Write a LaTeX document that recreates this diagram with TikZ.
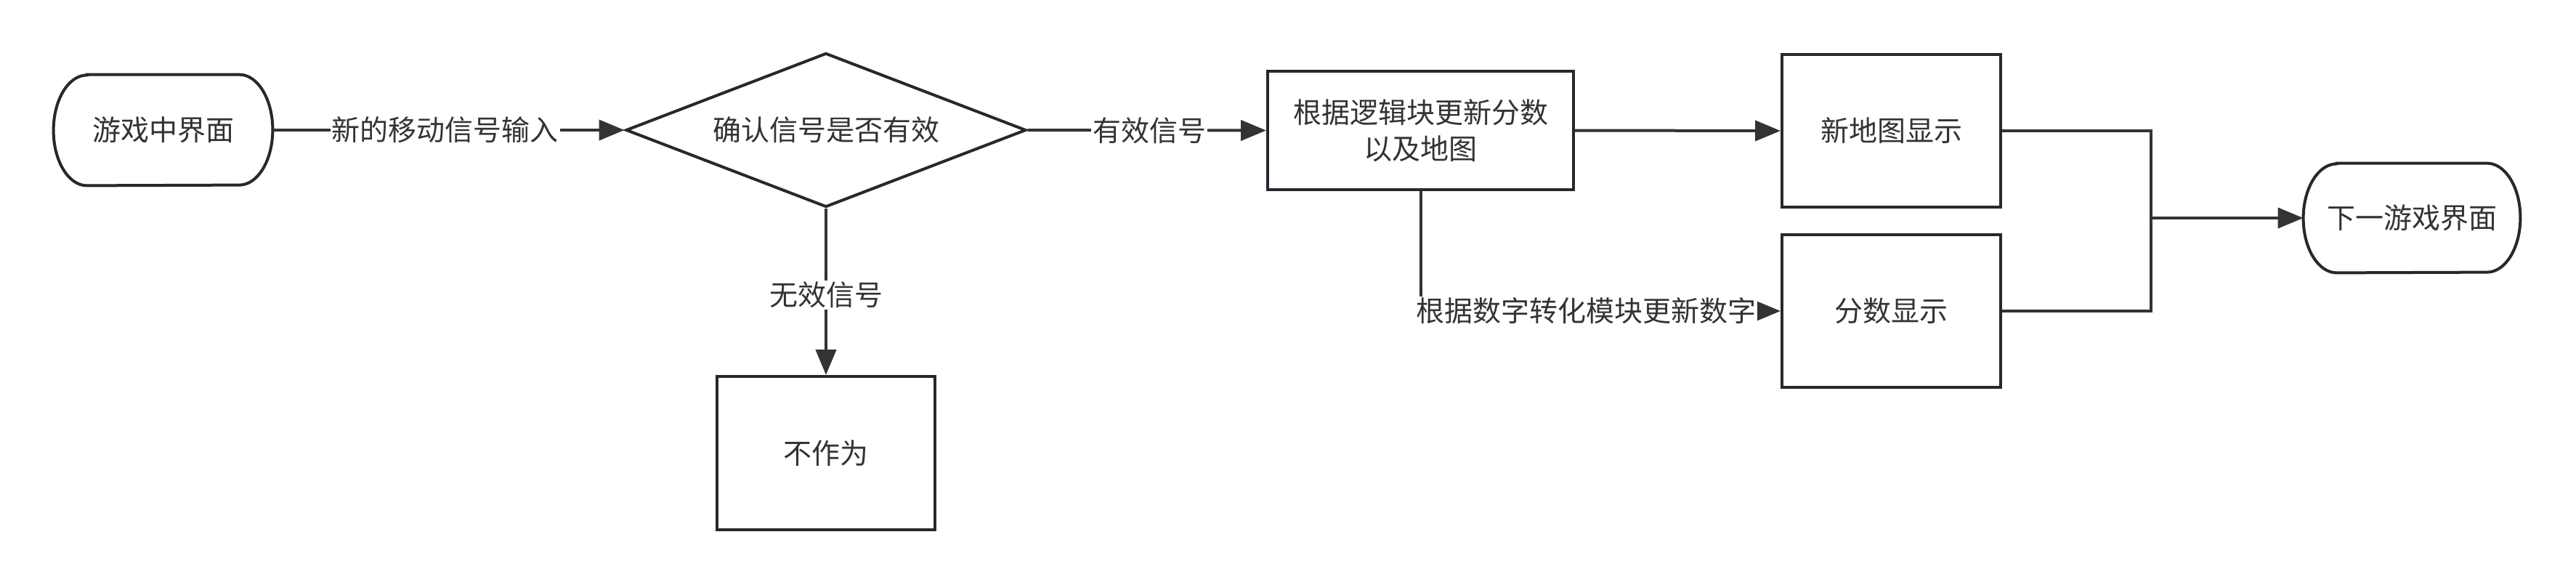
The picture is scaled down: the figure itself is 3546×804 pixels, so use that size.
\documentclass[tikz,border=0pt]{standalone}
\usepackage{fontspec}
\setmainfont{Noto Sans CJK SC}
\usetikzlibrary{shapes.geometric,arrows.meta}
\definecolor{ln}{HTML}{333333}
\definecolor{bd}{HTML}{23292F}
\begin{document}
\begin{tikzpicture}[x=0.5pt,y=-0.5pt,
  font=\fontsize{19.5}{25}\selectfont, text=ln,
  box/.style={draw=bd,line width=2pt,rectangle,inner sep=0pt,align=center},
  term/.style={rectangle,inner sep=0pt,minimum width=150.5pt,minimum height=76pt},
  termline/.style={draw=bd,line width=2pt},
  edge/.style={draw=ln,line width=2pt,-{Triangle[length=17.5pt,width=14pt]}},
  plain/.style={draw=ln,line width=2pt},
  lab/.style={fill=white,inner sep=1pt}]
\useasboundingbox (0,0) rectangle (3546,804);
\fill[white] (0,0) rectangle (3546,804);

% start terminator
\node[term] (start) at (224.5,179) {游戏中界面};
\draw[termline] ([xshift=23pt]start.north west) -- ([xshift=-23pt]start.north east)
  arc[start angle=90,end angle=-90,x radius=23pt,y radius=38pt]
  -- ([xshift=23pt]start.south west)
  arc[start angle=270,end angle=90,x radius=23pt,y radius=38pt] -- cycle;

% decision
\node[diamond,draw=bd,line width=2pt,minimum width=275.5pt,minimum height=106pt,aspect=2.6,inner sep=0pt] (dec) at (1137,179) {确认信号是否有效};

% boxes
\node[box,minimum width=150pt,minimum height=105.5pt] (noop) at (1137,623.5) {不作为};
\node[box,minimum width=210.5pt,minimum height=81.5pt] (logic) at (1955.5,179.5) {根据逻辑块更新分数\\以及地图};
\node[box,minimum width=150.5pt,minimum height=105pt] (map) at (2603.5,180) {新地图显示};
\node[box,minimum width=150.5pt,minimum height=105pt] (score) at (2603.5,428) {分数显示};

% end terminator
\node[term,minimum width=149pt,minimum height=75pt] (end) at (3320,300) {下一游戏界面};
\draw[termline] ([xshift=23pt]end.north west) -- ([xshift=-23pt]end.north east)
  arc[start angle=90,end angle=-90,x radius=23pt,y radius=37.5pt]
  -- ([xshift=23pt]end.south west)
  arc[start angle=270,end angle=90,x radius=23pt,y radius=37.5pt] -- cycle;

\coordinate (j) at (2961,300);

% connectors
\draw[edge] (start) -- node[lab,pos=0.49]{新的移动信号输入} (dec.west);
\draw[edge] (dec.east) -- node[lab,pos=0.51]{有效信号} (logic.west);
\draw[edge] (dec.south) -- node[lab,pos=0.52]{无效信号} (noop.north);
\draw[edge] (logic.east) -- (map.west);
\draw[edge] (logic.south) |- node[lab,pos=0.73]{根据数字转化模块更新数字} (score.west);
\draw[plain] (map.east) -| (j);
\draw[plain] (score.east) -| (j);
\draw[edge] (j) -- (end.west);
\end{tikzpicture}
\end{document}
